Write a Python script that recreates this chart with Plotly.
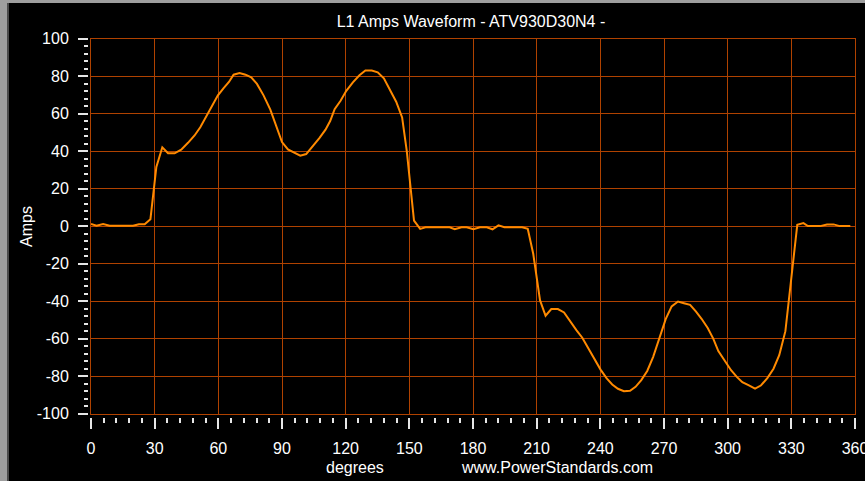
import plotly.graph_objects as go

# One cycle of L1 current, degrees vs amps
deg = [0, 2.6, 5.7, 8.8, 11.6, 14.4, 17.2, 19.8, 22.6, 25.3, 28.0, 30.8, 33.6, 36.3, 39.4,
       42.5, 45.7, 48.8, 51.5, 54.0, 56.8, 59.8, 62.5, 65.0, 67.2, 70.0, 72.8, 75.5, 78.2,
       81.3, 84.5, 87.3, 90.0, 92.8, 95.6, 98.6, 101.4, 104.6, 107.7, 110.5, 112.7, 114.8,
       117.6, 120.3, 123.4, 126.5, 129.3, 132.3, 135.1, 138.0, 140.9, 143.8, 146.6, 148.8,
       152.2, 155.1, 157.6, 160.3, 163.1, 166.0, 169.0, 171.4, 174.6, 177.0, 180.2, 183.3,
       186.5, 189.2, 192.0, 194.8, 197.6, 200.4, 203.2, 205.8, 208.4, 211.6, 214.2, 216.9,
       220.0, 222.9, 226.0, 228.8, 231.5, 234.2, 237.0, 240.1, 243.0, 245.6, 248.3, 251.1,
       254.0, 256.6, 259.3, 262.1, 264.9, 268.1, 270.8, 273.6, 276.6, 279.4, 282.3, 285.0,
       287.7, 290.6, 293.2, 295.6, 298.7, 301.6, 304.3, 306.9, 309.8, 312.9, 315.6, 318.7,
       321.6, 324.3, 327.2, 330.0, 332.8, 335.7, 337.8, 340.7, 343.6, 346.8, 349.9, 352.8,
       355.3, 357.8]
amps = [1.1, 0.2, 1.1, 0.2, 0.2, 0.2, 0.2, 0.2, 1.0, 1.0, 3.7, 31.5, 42.0, 38.8, 38.8,
        40.7, 44.4, 48.3, 52.7, 57.7, 63.0, 69.7, 73.6, 76.8, 80.7, 81.6, 80.7, 79.3, 75.8,
        69.7, 62.1, 53.8, 44.8, 40.9, 39.1, 37.5, 38.4, 42.7, 47.0, 51.4, 56.0, 62.3,
        66.8, 72.1, 76.6, 80.4, 82.9, 82.9, 82.0, 78.8, 72.5, 66.3, 57.9, 40.0,
        2.9, -1.5, -0.6, -0.6, -0.6, -0.6, -0.6, -1.7, -0.6, -0.6, -1.7, -0.6,
        -0.6, -1.7, 0.4, -0.6, -0.6, -0.6, -0.6, -1.5, -14.9, -39.6, -47.8, -44.2,
        -44.2, -46.0, -51.2, -55.6, -59.5, -64.8, -70.6, -76.5, -81.2, -84.4, -86.7, -88.0,
        -87.8, -85.7, -82.1, -77.2, -69.7, -59.1, -49.6, -42.8, -40.2, -41.1, -42.0, -45.5,
        -49.4, -54.3, -60.0, -66.6, -72.0, -76.8, -80.4, -83.2, -84.8, -86.6, -85.0, -81.0,
        -76.0, -68.8, -56.0, -27.0, 0.7, 1.6, 0.0, 0.0, 0.0, 0.9, 0.9, 0.0,
        0.0, 0.0]
assert len(deg) == len(amps)

x_ticks = [0, 30, 60, 90, 120, 150, 180, 210, 240, 270, 300, 330, 360]
x_labels = [str(v) for v in x_ticks]
y_ticks = [100, 80, 60, 40, 20, 0, -20, -40, -60, -80, -100]
y_labels = [str(v) for v in y_ticks]

W, H = 865, 481
# plot-area edges in pixels
PL, PR, PT, PB = 91, 855, 38.5, 413.7

GRID = "#b04200"
TICK = "#e6e6e6"
FONT = "Liberation Sans, Arial, sans-serif"

fig = go.Figure()
fig.add_trace(go.Scatter(x=deg, y=amps, mode="lines",
                         line=dict(color="#ff8a00", width=2),
                         hoverinfo="skip", showlegend=False))
# companion trace so the tick-only axes get drawn
fig.add_trace(go.Scatter(x=[None], y=[None], xaxis="x2", yaxis="y2",
                         mode="lines", hoverinfo="skip", showlegend=False))

fig.update_layout(
    width=W, height=H, template="none",
    margin=dict(l=0, r=0, t=0, b=0, pad=0),
    paper_bgcolor="black", plot_bgcolor="black",
    title=dict(text="L1 Amps Waveform - ATV930D30N4 -", x=471 / W, y=1 - 21 / H,
               xanchor="center", yanchor="middle", xref="paper", yref="paper",
               font=dict(family=FONT, size=16, color="white")),
    xaxis=dict(domain=[PL / W, PR / W], range=[0, 360], tick0=0, dtick=30,
               showgrid=True, gridcolor=GRID, gridwidth=1, zeroline=False,
               showticklabels=False, ticks="", showline=True, linecolor=GRID,
               linewidth=1, mirror=True, automargin=False, fixedrange=True),
    yaxis=dict(domain=[1 - PB / H, 1 - PT / H], range=[-100, 100], tick0=0, dtick=20,
               showgrid=True, gridcolor=GRID, gridwidth=1, zeroline=False,
               showticklabels=False, ticks="", showline=True, linecolor=GRID,
               linewidth=1, mirror=True, automargin=False, fixedrange=True),
    xaxis2=dict(overlaying="x", anchor="free", position=1 - (PB + 3) / H,
                range=[0, 360], tickmode="array", tickvals=x_ticks, ticktext=x_labels,
                ticks="outside", ticklen=11, tickwidth=1.5, tickcolor=TICK,
                showgrid=False, zeroline=False, showline=False, automargin=False,
                tickfont=dict(family=FONT, size=16, color="white"),
                ticklabelstandoff=6, ticklabeloverflow="allow",
                minor=dict(tick0=0, dtick=6, ticks="outside", ticklen=5,
                           tickwidth=1.5, tickcolor=TICK, showgrid=False),
                fixedrange=True),
    yaxis2=dict(overlaying="y", anchor="free", position=(PL - 3.5) / W, side="left",
                range=[-100, 100], tickmode="array", tickvals=y_ticks, ticktext=y_labels,
                ticks="outside", ticklen=9.5, tickwidth=2, tickcolor=TICK,
                showgrid=False, zeroline=False, showline=False, automargin=False,
                tickfont=dict(family=FONT, size=16, color="white"),
                ticklabelstandoff=6, ticklabeloverflow="allow",
                minor=dict(tick0=0, dtick=4, ticks="outside", ticklen=4,
                           tickwidth=2, tickcolor=TICK, showgrid=False),
                fixedrange=True),
    annotations=[
        dict(text="Amps", x=26 / W, y=1 - 227 / H, xref="paper", yref="paper",
             textangle=-90, showarrow=False, xanchor="center", yanchor="middle",
             font=dict(family=FONT, size=16, color="white")),
        dict(text="degrees", x=355 / W, y=1 - 467 / H, xref="paper", yref="paper",
             showarrow=False, xanchor="center", yanchor="middle",
             font=dict(family=FONT, size=16, color="white")),
        dict(text="www.PowerStandards.com", x=557 / W, y=1 - 467 / H, xref="paper",
             yref="paper", showarrow=False, xanchor="center", yanchor="middle",
             font=dict(family=FONT, size=16, color="white")),
    ],
    shapes=[
        # window frame: grey strip on top and left edges
        dict(type="rect", xref="paper", yref="paper", x0=0, x1=1, y0=1 - 3 / H, y1=1,
             fillcolor="#9e9e9e", line=dict(width=0), layer="above"),
        dict(type="rect", xref="paper", yref="paper", x0=0, x1=7 / W, y0=0, y1=1,
             fillcolor="#9e9e9e", line=dict(width=0), layer="above"),
        dict(type="rect", xref="paper", yref="paper", x0=7 / W, x1=9 / W, y0=0,
             y1=1 - 3 / H, fillcolor="#4a4a4a", line=dict(width=0), layer="above"),
    ],
)

fig.write_html("out.html", config=dict(displayModeBar=False))
